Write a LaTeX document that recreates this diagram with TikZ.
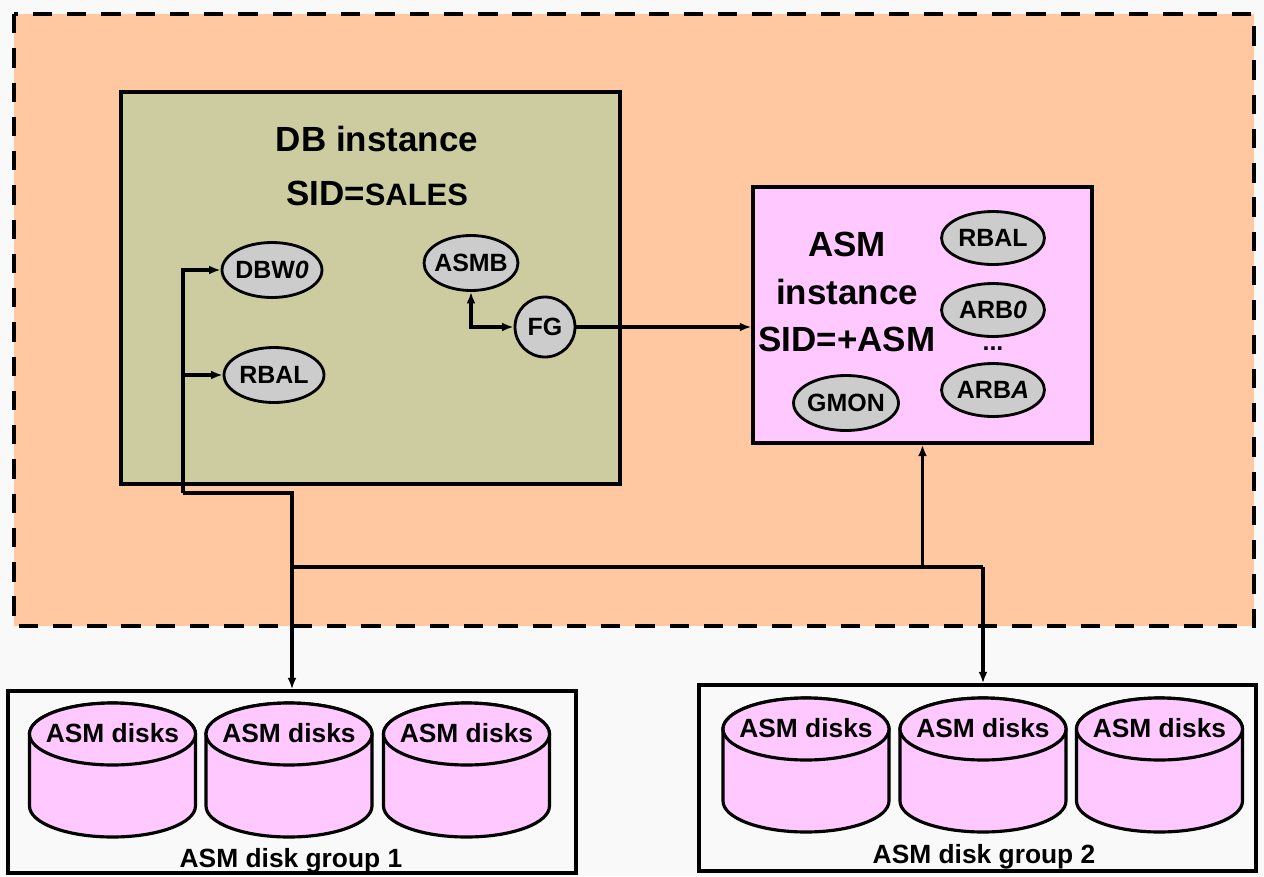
\documentclass[tikz,border=0pt]{standalone}
\usepackage{fontspec}
\setmainfont{Liberation Sans}
\usepackage{tikz}
\usetikzlibrary{arrows.meta,shapes,positioning,calc}
\usepackage{xcolor}
\definecolor{pagegray}{RGB}{249,249,249}
\definecolor{hostpeach}{RGB}{255,200,160}
\definecolor{dbolive}{RGB}{204,204,160}
\definecolor{asmpink}{RGB}{255,200,255}
\definecolor{procgray}{RGB}{204,204,204}
\tikzstyle{conn} = [line width=2pt,-{Latex[length=6.5pt,width=5pt]}]
\tikzstyle{conn2} = [line width=2pt,{Latex[length=6.5pt,width=5pt]}-{Latex[length=6.5pt,width=5pt]}]
\tikzstyle{bus} = [line width=2pt]
\tikzstyle{panel} = [rectangle,draw,line width=1.9pt,inner sep=0pt]
\tikzstyle{proc} = [ellipse,draw,line width=1.6pt,fill=procgray,inner xsep=-3pt,inner ysep=0pt,minimum width=2cm,minimum height=1.1cm,font=\fontsize{14.2}{16}\selectfont\bfseries]
\tikzstyle{titletext} = [align=center,inner sep=0pt,font=\fontsize{19.9}{30.6}\selectfont\bfseries]
\tikzstyle{disk} = [line width=1.8pt,fill=asmpink]
\tikzstyle{disklabel} = [inner sep=0pt,font=\fontsize{15}{17}\selectfont\bfseries]

\begin{document}
\begin{tikzpicture}[x=0.02cm,y=-0.02cm]
% page and host area
\fill[pagegray] (0,0) rectangle (1264,876);
\useasboundingbox (0,0) rectangle (1264,876);
\draw[line width=2.3pt,dash pattern=on 11pt off 8.5pt,fill=hostpeach] (14,14) rectangle (1254,626);

% DB instance
\node[panel,fill=dbolive,minimum width=9.98cm,minimum height=7.84cm] (db) at (370.5,288) {};
\node[titletext] (dbtitle) at (377,166) {DB instance\\SID={\fontsize{17.6}{30.6}\selectfont SALES}};
\node[proc] (dbw) at (272,270) {DBW\textit{0}};
\node[proc] (rbal) at (274,375) {RBAL};
\node[proc,minimum width=1.88cm] (asmb) at (471,263) {ASMB};
\node[proc,circle,inner sep=0pt,minimum size=1.2cm] (fg) at (545,327) {FG};

% ASM instance
\node[panel,fill=asmpink,minimum width=6.78cm,minimum height=5.12cm] (asm) at (922.5,315) {};
\node[titletext,font=\fontsize{19.9}{27.2}\selectfont\bfseries] (asmtitle) at (847,292) {ASM\\instance\\SID=+ASM};
\node[proc,minimum width=2.06cm,minimum height=1.06cm] (asmrbal) at (993,238) {RBAL};
\node[proc,minimum width=2.06cm,minimum height=1.06cm] (arb0) at (993,310) {ARB\textit{0}};
\node[font=\fontsize{14.2}{16}\selectfont\bfseries,inner sep=0pt] (arbdots) at (993,349) {...};
\node[proc,minimum width=2.06cm,minimum height=1.06cm] (arba) at (993,390) {ARB\textit{A}};
\node[proc,minimum width=2.1cm] (gmon) at (846,403) {GMON};

% disk groups
\node[panel,minimum width=11.36cm,minimum height=3.64cm] (grp1) at (292,782) {};
\node[panel,minimum width=11.14cm,minimum height=3.72cm] (grp2) at (977.5,778) {};
\foreach \cx/\nm in {112.5/disk11,289/disk12,466.5/disk13} {
  \filldraw[disk] ({\cx-83},734) -- ({\cx-83},806) arc[start angle=180,end angle=360,x radius=1.66cm,y radius=0.62cm] -- ({\cx+83},734) arc[start angle=0,end angle=180,x radius=1.66cm,y radius=0.62cm] -- cycle;
  \draw[disk] (\cx,734) ellipse [x radius=1.66cm,y radius=0.62cm];
  \node[disklabel] (\nm) at (\cx,733) {ASM disks};
}
\foreach \cx/\nm in {806/disk21,983/disk22,1159.5/disk23} {
  \filldraw[disk] ({\cx-83},729) -- ({\cx-83},801) arc[start angle=180,end angle=360,x radius=1.66cm,y radius=0.62cm] -- ({\cx+83},729) arc[start angle=0,end angle=180,x radius=1.66cm,y radius=0.62cm] -- cycle;
  \draw[disk] (\cx,729) ellipse [x radius=1.66cm,y radius=0.62cm];
  \node[disklabel] (\nm) at (\cx,728) {ASM disks};
}
\node[disklabel,anchor=base] (grp1label) at (291,867) {ASM disk group 1};
\node[disklabel,anchor=base] (grp2label) at (984,863) {ASM disk group 2};

% connectors
\coordinate (busdb) at (183,493);
\coordinate (hubl) at (292,567);
\coordinate (hubr) at (983,567);
\draw[conn] (busdb) |- (dbw.west);
\draw[conn] (rbal.west -| busdb) -- (rbal.west);
\draw[conn] (busdb) -| (grp1.north);
\draw[bus] (hubl) -- (hubr);
\draw[conn] (hubr) -- (hubr |- grp2.north);
\draw[conn] (asm.south |- hubr) -- (asm.south);
\draw[conn2] (asmb.south) |- (fg.west);
\draw[conn] (fg.east) -- (fg.east -| asm.west);
\end{tikzpicture}
\end{document}
